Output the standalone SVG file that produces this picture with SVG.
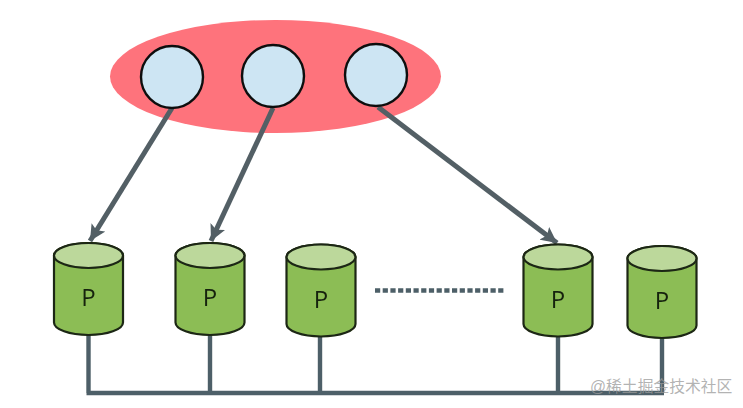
<svg xmlns="http://www.w3.org/2000/svg" width="743" height="408" viewBox="0 0 743 408">
<style>
.ci{fill:#cde5f3;stroke:#111;stroke-width:2.4}
.body{fill:#8cbd55;stroke:#1b2712;stroke-width:2.2}
.top{fill:#bcd89b;stroke:#1b2712;stroke-width:2.2}
.p{font-family:"Open Sans",sans-serif;font-size:24px;fill:#16230f;text-anchor:middle}
.c{fill:none;stroke:#4e5f67;stroke-width:4.4}
.a{fill:none;stroke:#525f65;stroke-width:5;marker-end:url(#ah)}
</style>
<defs>
<filter id="soft" filterUnits="userSpaceOnUse" x="0" y="0" width="743" height="408"><feGaussianBlur stdDeviation="0.45"/></filter>
<marker id="ah" markerUnits="userSpaceOnUse" markerWidth="18" markerHeight="16" refX="16" refY="8" orient="auto"><path d="M0 0L16 8L0 16L3.5 8Z" fill="#525f65"/></marker>
<path id="cyl" d="M0 12.5A34.5 12.5 0 0 1 69 12.5V79.5A34.5 12.5 0 0 1 0 79.5Z"/>
</defs>
<rect width="743" height="408" fill="#fff"/>
<g filter="url(#soft)">
<g id="group-ellipse"><ellipse cx="275.5" cy="76.5" rx="165.5" ry="56.5" fill="#fe737c"/></g>
<g id="connectors">
<path class="c" d="M88.5 335V393M210 335V393M320 337V393M558 336V393M662 338V393M86.5 393H664"/>
<path class="a" d="M172 108L90 241"/>
<path class="a" d="M273 108L211 241"/>
<path class="a" d="M378 107L557 243"/>
<path class="c" d="M375 290.5H505" stroke-width="5" stroke-dasharray="5.2 2.5"/>
</g>
<g id="node-c1"><circle class="ci" cx="172" cy="77" r="31"/></g>
<g id="node-c2"><circle class="ci" cx="273" cy="76" r="31"/></g>
<g id="node-c3"><circle class="ci" cx="376" cy="75" r="31"/></g>
<g id="node-p1" transform="translate(54 243)"><use href="#cyl" class="body"/><ellipse class="top" cx="34.5" cy="12.5" rx="34.5" ry="12.5"/><text class="p" x="34.5" y="63">P</text></g>
<g id="node-p2" transform="translate(175.5 243)"><use href="#cyl" class="body"/><ellipse class="top" cx="34.5" cy="12.5" rx="34.5" ry="12.5"/><text class="p" x="34.5" y="63">P</text></g>
<g id="node-p3" transform="translate(286.5 244.5)"><use href="#cyl" class="body"/><ellipse class="top" cx="34.5" cy="12.5" rx="34.5" ry="12.5"/><text class="p" x="34.5" y="63">P</text></g>
<g id="node-p4" transform="translate(523.5 244.5)"><use href="#cyl" class="body"/><ellipse class="top" cx="34.5" cy="12.5" rx="34.5" ry="12.5"/><text class="p" x="34.5" y="63">P</text></g>
<g id="node-p5" transform="translate(627.5 246)"><use href="#cyl" class="body"/><ellipse class="top" cx="34.5" cy="12.5" rx="34.5" ry="12.5"/><text class="p" x="34.5" y="63">P</text></g>
</g>
<text x="590" y="392" font-family="'Liberation Sans','Noto Sans CJK SC',sans-serif" font-size="15.8" fill="#9a9a9a" fill-opacity="0.75">@稀土掘金技术社区</text>
</svg>
